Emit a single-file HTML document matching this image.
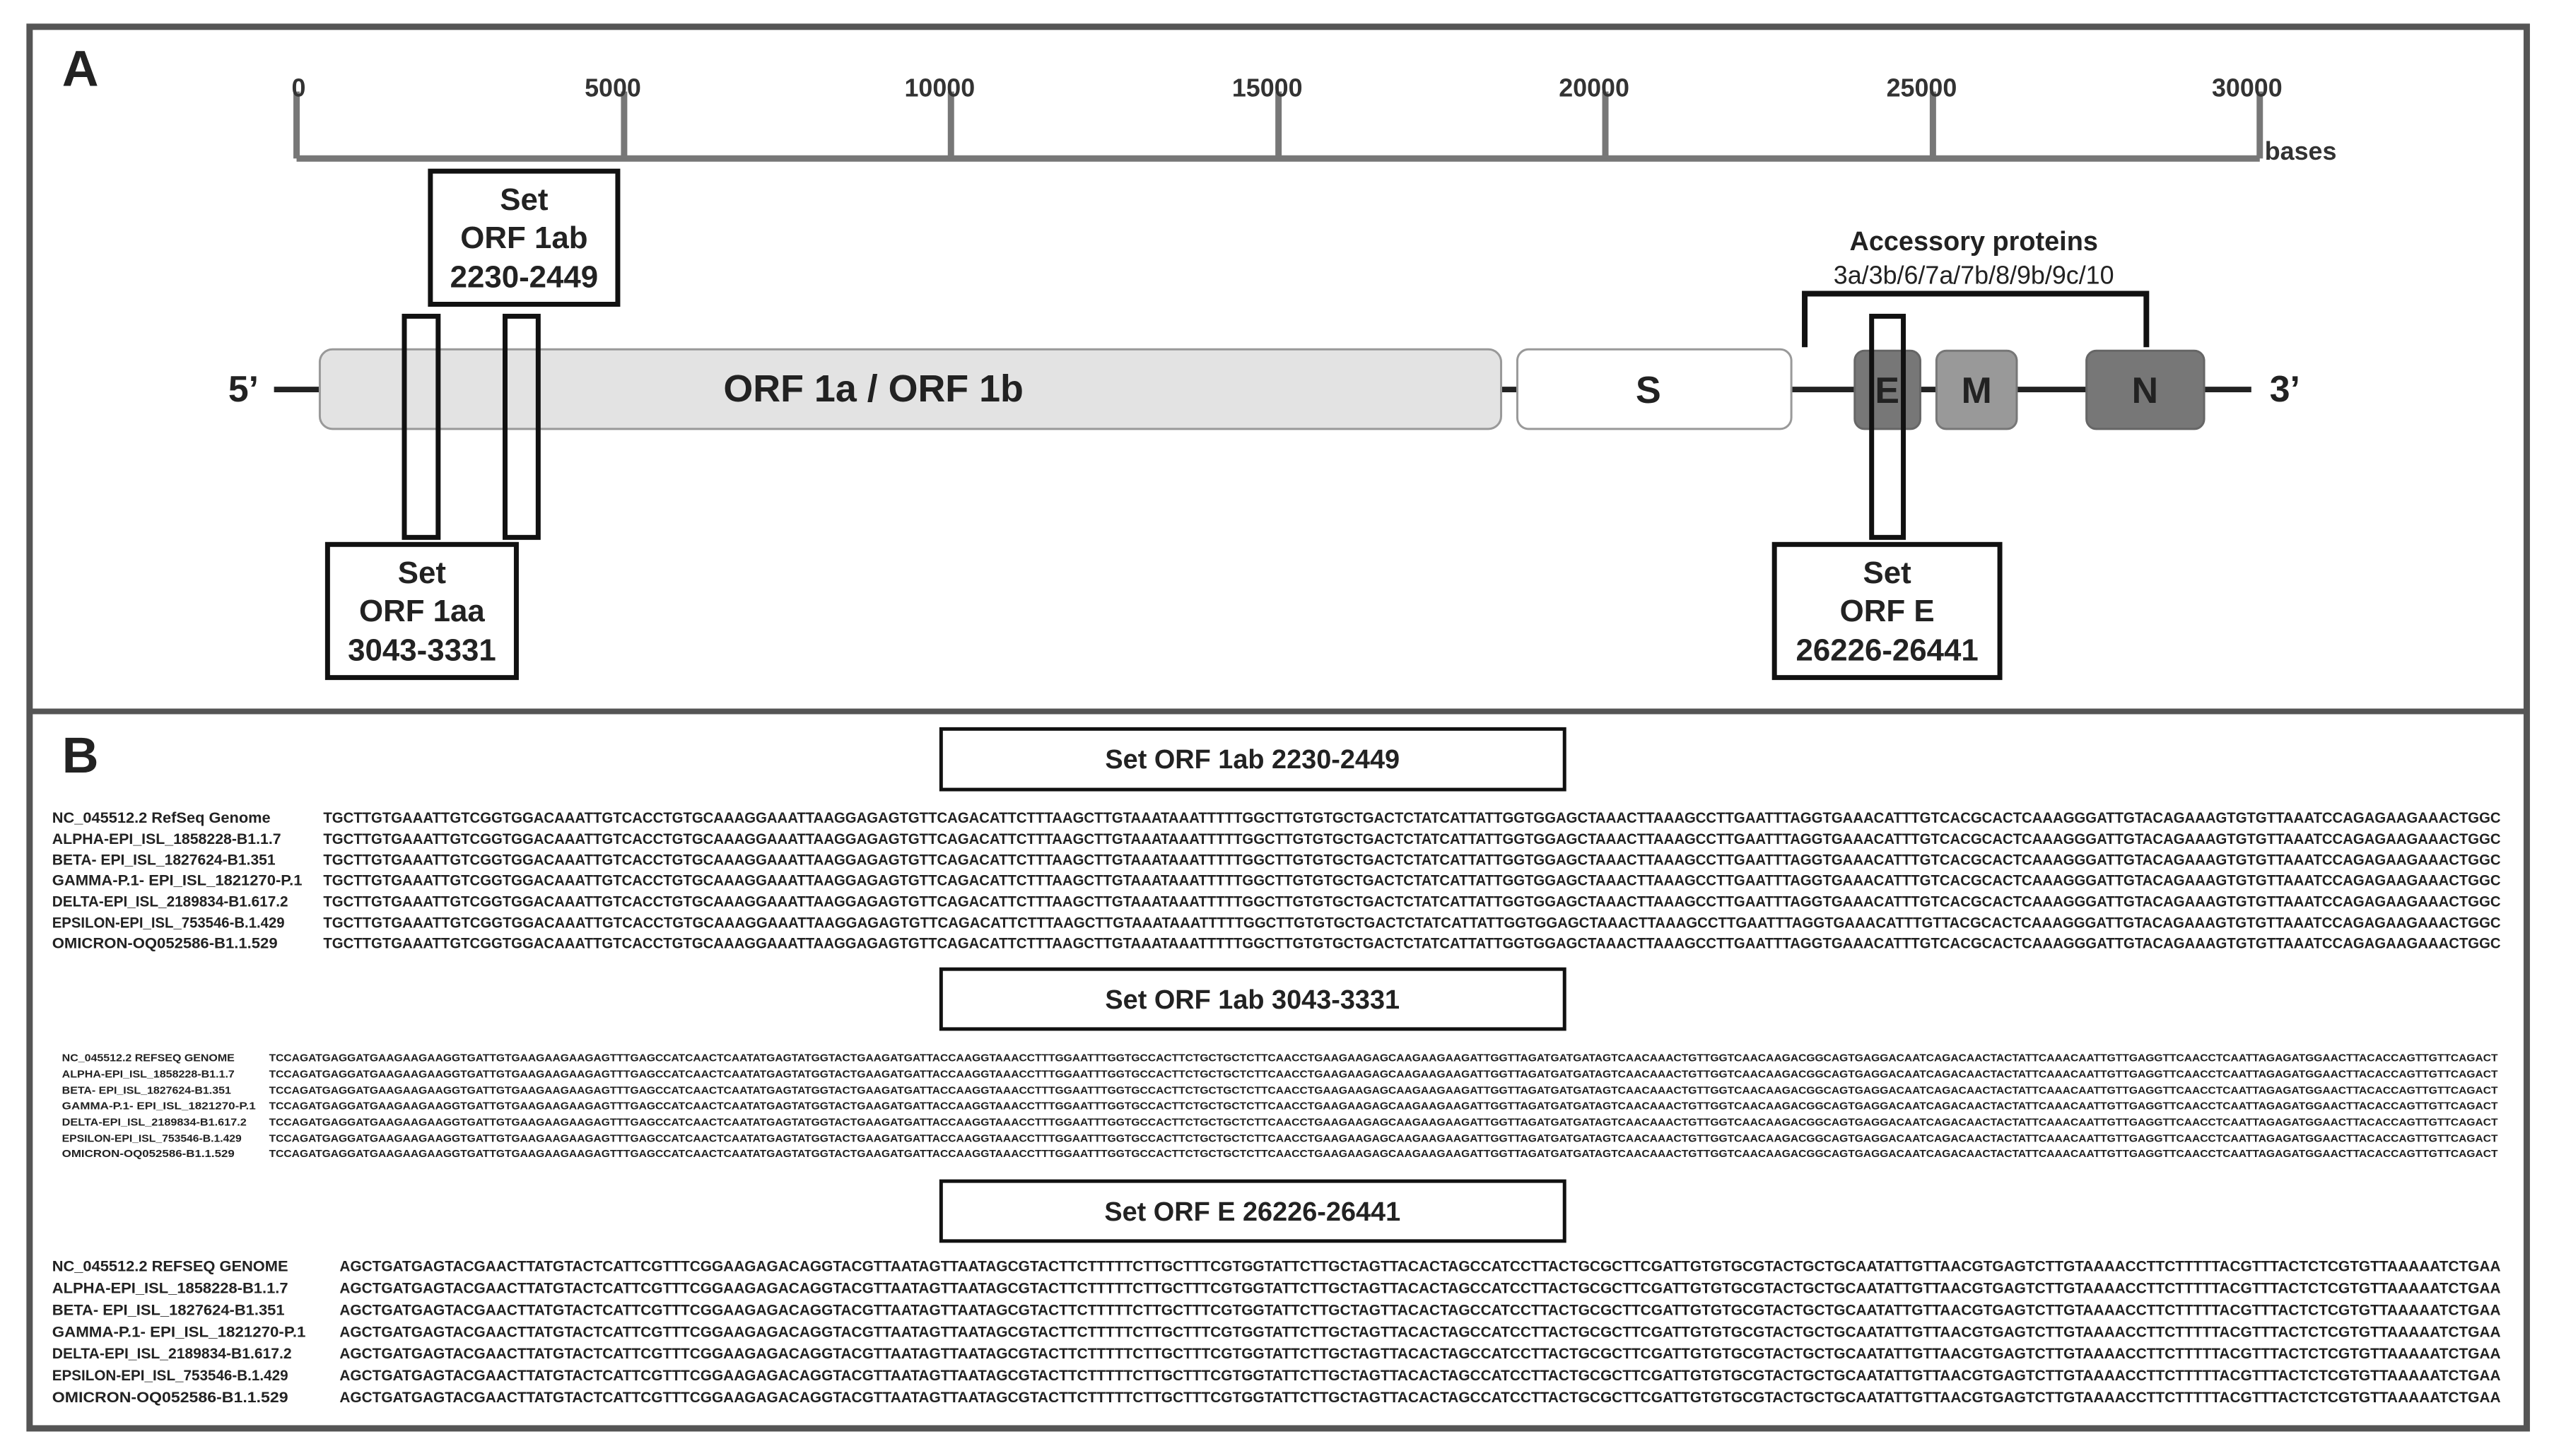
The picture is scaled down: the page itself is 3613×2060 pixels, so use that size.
<!DOCTYPE html>
<html><head><meta charset="utf-8"><style>html,body{margin:0;padding:0;background:#fff}svg{display:block}</style></head>
<body>
<svg xmlns="http://www.w3.org/2000/svg" width="3613" height="2060" viewBox="0 0 3613 2060" font-family="Liberation Sans, sans-serif">
<rect width="3613" height="2060" fill="#fff"/>
<g transform="scale(0.9965)">
<rect x="42" y="38" width="3545" height="1990" fill="none" stroke="#555" stroke-width="9"/>
<line x1="42" y1="1010" x2="3587" y2="1010" stroke="#555" stroke-width="8"/>
<text x="88" y="122" font-size="72" font-weight="bold" fill="#222">A</text>
<g stroke="#777" stroke-width="9" fill="none">
<line x1="421" y1="225" x2="3208" y2="225"/>
<line x1="421" y1="130" x2="421" y2="225"/><line x1="886" y1="130" x2="886" y2="225"/>
<line x1="1350" y1="130" x2="1350" y2="225"/><line x1="1815" y1="130" x2="1815" y2="225"/>
<line x1="2279" y1="130" x2="2279" y2="225"/><line x1="2744" y1="130" x2="2744" y2="225"/>
<line x1="3208" y1="130" x2="3208" y2="225"/>
</g>
<g font-size="36" font-weight="bold" fill="#333" text-anchor="middle">
<text x="424" y="137">0</text><text x="870" y="137">5000</text><text x="1334" y="137">10000</text>
<text x="1799" y="137">15000</text><text x="2263" y="137">20000</text><text x="2728" y="137">25000</text><text x="3190" y="137">30000</text>
</g>
<text x="3215" y="227" font-size="36" font-weight="bold" fill="#333">bases</text>
<line x1="389" y1="553" x2="3196" y2="553" stroke="#222" stroke-width="8"/>
<text x="324" y="570" font-size="52" font-weight="bold" fill="#222">5’</text>
<text x="3222" y="570" font-size="52" font-weight="bold" fill="#222">3’</text>
<rect x="454" y="496" width="1677" height="113" rx="18" fill="#e3e3e3" stroke="#999" stroke-width="3"/>
<text x="1240" y="570" font-size="54" font-weight="bold" fill="#222" text-anchor="middle">ORF 1a / ORF 1b</text>
<rect x="2154" y="496" width="389" height="113" rx="16" fill="#fff" stroke="#999" stroke-width="3"/>
<text x="2340" y="572" font-size="54" font-weight="bold" fill="#222" text-anchor="middle">S</text>
<rect x="2633" y="498" width="93" height="111" rx="14" fill="#777" stroke="#666" stroke-width="3"/>
<text x="2679" y="572" font-size="52" font-weight="bold" fill="#222" text-anchor="middle">E</text>
<rect x="2749" y="498" width="114" height="111" rx="14" fill="#999" stroke="#777" stroke-width="3"/>
<text x="2806" y="572" font-size="52" font-weight="bold" fill="#222" text-anchor="middle">M</text>
<rect x="2962" y="498" width="167" height="111" rx="14" fill="#777" stroke="#666" stroke-width="3"/>
<text x="3045" y="572" font-size="52" font-weight="bold" fill="#222" text-anchor="middle">N</text>
<path d="M2562 493 V417 H3047 V493" fill="none" stroke="#111" stroke-width="8"/>
<text x="2802" y="355" font-size="38" font-weight="bold" fill="#222" text-anchor="middle">Accessory proteins</text>
<text x="2802" y="403" font-size="36" fill="#222" text-anchor="middle">3a/3b/6/7a/7b/8/9b/9c/10</text>
<g fill="none" stroke="#111" stroke-width="7">
<rect x="574" y="449" width="48" height="314"/>
<rect x="717" y="449" width="47" height="314"/>
<rect x="2657" y="449" width="45" height="314"/>
<rect x="611" y="243" width="266" height="189"/>
<rect x="465" y="773" width="268" height="189"/>
<rect x="2519" y="773" width="320" height="189"/>
</g>
<g font-size="44" font-weight="bold" fill="#222" text-anchor="middle">
<text x="744" y="298">Set</text><text x="744" y="352">ORF 1ab</text><text x="744" y="408">2230-2449</text>
<text x="599" y="828">Set</text><text x="599" y="882">ORF 1aa</text><text x="599" y="938">3043-3331</text>
<text x="2679" y="828">Set</text><text x="2679" y="882">ORF E</text><text x="2679" y="938">26226-26441</text>
</g>
<text x="88" y="1097" font-size="72" font-weight="bold" fill="#222">B</text>
<g fill="none" stroke="#111" stroke-width="5">
<rect x="1336" y="1035" width="885" height="86"/>
<rect x="1336" y="1376" width="885" height="85"/>
<rect x="1336" y="1677" width="885" height="85"/>
</g>
<g font-size="38" font-weight="bold" fill="#222" text-anchor="middle">
<text x="1778" y="1091">Set ORF 1ab 2230-2449</text>
<text x="1778" y="1432">Set ORF 1ab 3043-3331</text>
<text x="1778" y="1733">Set ORF E  26226-26441</text>
</g>
<g font-size="21" font-weight="bold" fill="#222">
<text x="74" y="1168" textLength="310" lengthAdjust="spacingAndGlyphs">NC_045512.2 RefSeq Genome</text>
<text x="74" y="1198" textLength="325" lengthAdjust="spacingAndGlyphs">ALPHA-EPI_ISL_1858228-B1.1.7</text>
<text x="74" y="1228" textLength="317" lengthAdjust="spacingAndGlyphs">BETA- EPI_ISL_1827624-B1.351</text>
<text x="74" y="1257" textLength="355" lengthAdjust="spacingAndGlyphs">GAMMA-P.1- EPI_ISL_1821270-P.1</text>
<text x="74" y="1287" textLength="335" lengthAdjust="spacingAndGlyphs">DELTA-EPI_ISL_2189834-B1.617.2</text>
<text x="74" y="1317" textLength="330" lengthAdjust="spacingAndGlyphs">EPSILON-EPI_ISL_753546-B.1.429</text>
<text x="74" y="1346" textLength="320" lengthAdjust="spacingAndGlyphs">OMICRON-OQ052586-B1.1.529</text>
</g>
<g font-size="21" font-weight="bold" fill="#222">
<text x="459" y="1168" textLength="3091" lengthAdjust="spacingAndGlyphs">TGCTTGTGAAATTGTCGGTGGACAAATTGTCACCTGTGCAAAGGAAATTAAGGAGAGTGTTCAGACATTCTTTAAGCTTGTAAATAAATTTTTGGCTTGTGTGCTGACTCTATCATTATTGGTGGAGCTAAACTTAAAGCCTTGAATTTAGGTGAAACATTTGTCACGCACTCAAAGGGATTGTACAGAAAGTGTGTTAAATCCAGAGAAGAAACTGGC</text>
<text x="459" y="1198" textLength="3091" lengthAdjust="spacingAndGlyphs">TGCTTGTGAAATTGTCGGTGGACAAATTGTCACCTGTGCAAAGGAAATTAAGGAGAGTGTTCAGACATTCTTTAAGCTTGTAAATAAATTTTTGGCTTGTGTGCTGACTCTATCATTATTGGTGGAGCTAAACTTAAAGCCTTGAATTTAGGTGAAACATTTGTCACGCACTCAAAGGGATTGTACAGAAAGTGTGTTAAATCCAGAGAAGAAACTGGC</text>
<text x="459" y="1228" textLength="3091" lengthAdjust="spacingAndGlyphs">TGCTTGTGAAATTGTCGGTGGACAAATTGTCACCTGTGCAAAGGAAATTAAGGAGAGTGTTCAGACATTCTTTAAGCTTGTAAATAAATTTTTGGCTTGTGTGCTGACTCTATCATTATTGGTGGAGCTAAACTTAAAGCCTTGAATTTAGGTGAAACATTTGTCACGCACTCAAAGGGATTGTACAGAAAGTGTGTTAAATCCAGAGAAGAAACTGGC</text>
<text x="459" y="1257" textLength="3091" lengthAdjust="spacingAndGlyphs">TGCTTGTGAAATTGTCGGTGGACAAATTGTCACCTGTGCAAAGGAAATTAAGGAGAGTGTTCAGACATTCTTTAAGCTTGTAAATAAATTTTTGGCTTGTGTGCTGACTCTATCATTATTGGTGGAGCTAAACTTAAAGCCTTGAATTTAGGTGAAACATTTGTCACGCACTCAAAGGGATTGTACAGAAAGTGTGTTAAATCCAGAGAAGAAACTGGC</text>
<text x="459" y="1287" textLength="3091" lengthAdjust="spacingAndGlyphs">TGCTTGTGAAATTGTCGGTGGACAAATTGTCACCTGTGCAAAGGAAATTAAGGAGAGTGTTCAGACATTCTTTAAGCTTGTAAATAAATTTTTGGCTTGTGTGCTGACTCTATCATTATTGGTGGAGCTAAACTTAAAGCCTTGAATTTAGGTGAAACATTTGTCACGCACTCAAAGGGATTGTACAGAAAGTGTGTTAAATCCAGAGAAGAAACTGGC</text>
<text x="459" y="1317" textLength="3091" lengthAdjust="spacingAndGlyphs">TGCTTGTGAAATTGTCGGTGGACAAATTGTCACCTGTGCAAAGGAAATTAAGGAGAGTGTTCAGACATTCTTTAAGCTTGTAAATAAATTTTTGGCTTGTGTGCTGACTCTATCATTATTGGTGGAGCTAAACTTAAAGCCTTGAATTTAGGTGAAACATTTGTTACGCACTCAAAGGGATTGTACAGAAAGTGTGTTAAATCCAGAGAAGAAACTGGC</text>
<text x="459" y="1346" textLength="3091" lengthAdjust="spacingAndGlyphs">TGCTTGTGAAATTGTCGGTGGACAAATTGTCACCTGTGCAAAGGAAATTAAGGAGAGTGTTCAGACATTCTTTAAGCTTGTAAATAAATTTTTGGCTTGTGTGCTGACTCTATCATTATTGGTGGAGCTAAACTTAAAGCCTTGAATTTAGGTGAAACATTTGTCACGCACTCAAAGGGATTGTACAGAAAGTGTGTTAAATCCAGAGAAGAAACTGGC</text>
</g>
<g font-size="15" font-weight="bold" fill="#222">
<text x="88" y="1507" textLength="245" lengthAdjust="spacingAndGlyphs">NC_045512.2 REFSEQ GENOME</text>
<text x="88" y="1530" textLength="245" lengthAdjust="spacingAndGlyphs">ALPHA-EPI_ISL_1858228-B1.1.7</text>
<text x="88" y="1553" textLength="240" lengthAdjust="spacingAndGlyphs">BETA- EPI_ISL_1827624-B1.351</text>
<text x="88" y="1575" textLength="275" lengthAdjust="spacingAndGlyphs">GAMMA-P.1- EPI_ISL_1821270-P.1</text>
<text x="88" y="1598" textLength="262" lengthAdjust="spacingAndGlyphs">DELTA-EPI_ISL_2189834-B1.617.2</text>
<text x="88" y="1621" textLength="255" lengthAdjust="spacingAndGlyphs">EPSILON-EPI_ISL_753546-B.1.429</text>
<text x="88" y="1643" textLength="245" lengthAdjust="spacingAndGlyphs">OMICRON-OQ052586-B1.1.529</text>
</g>
<g font-size="15" font-weight="bold" fill="#222">
<text x="382" y="1507" textLength="3164" lengthAdjust="spacingAndGlyphs">TCCAGATGAGGATGAAGAAGAAGGTGATTGTGAAGAAGAAGAGTTTGAGCCATCAACTCAATATGAGTATGGTACTGAAGATGATTACCAAGGTAAACCTTTGGAATTTGGTGCCACTTCTGCTGCTCTTCAACCTGAAGAAGAGCAAGAAGAAGATTGGTTAGATGATGATAGTCAACAAACTGTTGGTCAACAAGACGGCAGTGAGGACAATCAGACAACTACTATTCAAACAATTGTTGAGGTTCAACCTCAATTAGAGATGGAACTTACACCAGTTGTTCAGACT</text>
<text x="382" y="1530" textLength="3164" lengthAdjust="spacingAndGlyphs">TCCAGATGAGGATGAAGAAGAAGGTGATTGTGAAGAAGAAGAGTTTGAGCCATCAACTCAATATGAGTATGGTACTGAAGATGATTACCAAGGTAAACCTTTGGAATTTGGTGCCACTTCTGCTGCTCTTCAACCTGAAGAAGAGCAAGAAGAAGATTGGTTAGATGATGATAGTCAACAAACTGTTGGTCAACAAGACGGCAGTGAGGACAATCAGACAACTACTATTCAAACAATTGTTGAGGTTCAACCTCAATTAGAGATGGAACTTACACCAGTTGTTCAGACT</text>
<text x="382" y="1553" textLength="3164" lengthAdjust="spacingAndGlyphs">TCCAGATGAGGATGAAGAAGAAGGTGATTGTGAAGAAGAAGAGTTTGAGCCATCAACTCAATATGAGTATGGTACTGAAGATGATTACCAAGGTAAACCTTTGGAATTTGGTGCCACTTCTGCTGCTCTTCAACCTGAAGAAGAGCAAGAAGAAGATTGGTTAGATGATGATAGTCAACAAACTGTTGGTCAACAAGACGGCAGTGAGGACAATCAGACAACTACTATTCAAACAATTGTTGAGGTTCAACCTCAATTAGAGATGGAACTTACACCAGTTGTTCAGACT</text>
<text x="382" y="1575" textLength="3164" lengthAdjust="spacingAndGlyphs">TCCAGATGAGGATGAAGAAGAAGGTGATTGTGAAGAAGAAGAGTTTGAGCCATCAACTCAATATGAGTATGGTACTGAAGATGATTACCAAGGTAAACCTTTGGAATTTGGTGCCACTTCTGCTGCTCTTCAACCTGAAGAAGAGCAAGAAGAAGATTGGTTAGATGATGATAGTCAACAAACTGTTGGTCAACAAGACGGCAGTGAGGACAATCAGACAACTACTATTCAAACAATTGTTGAGGTTCAACCTCAATTAGAGATGGAACTTACACCAGTTGTTCAGACT</text>
<text x="382" y="1598" textLength="3164" lengthAdjust="spacingAndGlyphs">TCCAGATGAGGATGAAGAAGAAGGTGATTGTGAAGAAGAAGAGTTTGAGCCATCAACTCAATATGAGTATGGTACTGAAGATGATTACCAAGGTAAACCTTTGGAATTTGGTGCCACTTCTGCTGCTCTTCAACCTGAAGAAGAGCAAGAAGAAGATTGGTTAGATGATGATAGTCAACAAACTGTTGGTCAACAAGACGGCAGTGAGGACAATCAGACAACTACTATTCAAACAATTGTTGAGGTTCAACCTCAATTAGAGATGGAACTTACACCAGTTGTTCAGACT</text>
<text x="382" y="1621" textLength="3164" lengthAdjust="spacingAndGlyphs">TCCAGATGAGGATGAAGAAGAAGGTGATTGTGAAGAAGAAGAGTTTGAGCCATCAACTCAATATGAGTATGGTACTGAAGATGATTACCAAGGTAAACCTTTGGAATTTGGTGCCACTTCTGCTGCTCTTCAACCTGAAGAAGAGCAAGAAGAAGATTGGTTAGATGATGATAGTCAACAAACTGTTGGTCAACAAGACGGCAGTGAGGACAATCAGACAACTACTATTCAAACAATTGTTGAGGTTCAACCTCAATTAGAGATGGAACTTACACCAGTTGTTCAGACT</text>
<text x="382" y="1643" textLength="3164" lengthAdjust="spacingAndGlyphs">TCCAGATGAGGATGAAGAAGAAGGTGATTGTGAAGAAGAAGAGTTTGAGCCATCAACTCAATATGAGTATGGTACTGAAGATGATTACCAAGGTAAACCTTTGGAATTTGGTGCCACTTCTGCTGCTCTTCAACCTGAAGAAGAGCAAGAAGAAGATTGGTTAGATGATGATAGTCAACAAACTGTTGGTCAACAAGACGGCAGTGAGGACAATCAGACAACTACTATTCAAACAATTGTTGAGGTTCAACCTCAATTAGAGATGGAACTTACACCAGTTGTTCAGACT</text>
</g>
<g font-size="21" font-weight="bold" fill="#222">
<text x="74" y="1805" textLength="335" lengthAdjust="spacingAndGlyphs">NC_045512.2 REFSEQ GENOME</text>
<text x="74" y="1836" textLength="335" lengthAdjust="spacingAndGlyphs">ALPHA-EPI_ISL_1858228-B1.1.7</text>
<text x="74" y="1867" textLength="330" lengthAdjust="spacingAndGlyphs">BETA- EPI_ISL_1827624-B1.351</text>
<text x="74" y="1898" textLength="360" lengthAdjust="spacingAndGlyphs">GAMMA-P.1- EPI_ISL_1821270-P.1</text>
<text x="74" y="1929" textLength="340" lengthAdjust="spacingAndGlyphs">DELTA-EPI_ISL_2189834-B1.617.2</text>
<text x="74" y="1960" textLength="335" lengthAdjust="spacingAndGlyphs">EPSILON-EPI_ISL_753546-B.1.429</text>
<text x="74" y="1991" textLength="335" lengthAdjust="spacingAndGlyphs">OMICRON-OQ052586-B1.1.529</text>
</g>
<g font-size="21" font-weight="bold" fill="#222">
<text x="482" y="1805" textLength="3068" lengthAdjust="spacingAndGlyphs">AGCTGATGAGTACGAACTTATGTACTCATTCGTTTCGGAAGAGACAGGTACGTTAATAGTTAATAGCGTACTTCTTTTTCTTGCTTTCGTGGTATTCTTGCTAGTTACACTAGCCATCCTTACTGCGCTTCGATTGTGTGCGTACTGCTGCAATATTGTTAACGTGAGTCTTGTAAAACCTTCTTTTTACGTTTACTCTCGTGTTAAAAATCTGAA</text>
<text x="482" y="1836" textLength="3068" lengthAdjust="spacingAndGlyphs">AGCTGATGAGTACGAACTTATGTACTCATTCGTTTCGGAAGAGACAGGTACGTTAATAGTTAATAGCGTACTTCTTTTTCTTGCTTTCGTGGTATTCTTGCTAGTTACACTAGCCATCCTTACTGCGCTTCGATTGTGTGCGTACTGCTGCAATATTGTTAACGTGAGTCTTGTAAAACCTTCTTTTTACGTTTACTCTCGTGTTAAAAATCTGAA</text>
<text x="482" y="1867" textLength="3068" lengthAdjust="spacingAndGlyphs">AGCTGATGAGTACGAACTTATGTACTCATTCGTTTCGGAAGAGACAGGTACGTTAATAGTTAATAGCGTACTTCTTTTTCTTGCTTTCGTGGTATTCTTGCTAGTTACACTAGCCATCCTTACTGCGCTTCGATTGTGTGCGTACTGCTGCAATATTGTTAACGTGAGTCTTGTAAAACCTTCTTTTTACGTTTACTCTCGTGTTAAAAATCTGAA</text>
<text x="482" y="1898" textLength="3068" lengthAdjust="spacingAndGlyphs">AGCTGATGAGTACGAACTTATGTACTCATTCGTTTCGGAAGAGACAGGTACGTTAATAGTTAATAGCGTACTTCTTTTTCTTGCTTTCGTGGTATTCTTGCTAGTTACACTAGCCATCCTTACTGCGCTTCGATTGTGTGCGTACTGCTGCAATATTGTTAACGTGAGTCTTGTAAAACCTTCTTTTTACGTTTACTCTCGTGTTAAAAATCTGAA</text>
<text x="482" y="1929" textLength="3068" lengthAdjust="spacingAndGlyphs">AGCTGATGAGTACGAACTTATGTACTCATTCGTTTCGGAAGAGACAGGTACGTTAATAGTTAATAGCGTACTTCTTTTTCTTGCTTTCGTGGTATTCTTGCTAGTTACACTAGCCATCCTTACTGCGCTTCGATTGTGTGCGTACTGCTGCAATATTGTTAACGTGAGTCTTGTAAAACCTTCTTTTTACGTTTACTCTCGTGTTAAAAATCTGAA</text>
<text x="482" y="1960" textLength="3068" lengthAdjust="spacingAndGlyphs">AGCTGATGAGTACGAACTTATGTACTCATTCGTTTCGGAAGAGACAGGTACGTTAATAGTTAATAGCGTACTTCTTTTTCTTGCTTTCGTGGTATTCTTGCTAGTTACACTAGCCATCCTTACTGCGCTTCGATTGTGTGCGTACTGCTGCAATATTGTTAACGTGAGTCTTGTAAAACCTTCTTTTTACGTTTACTCTCGTGTTAAAAATCTGAA</text>
<text x="482" y="1991" textLength="3068" lengthAdjust="spacingAndGlyphs">AGCTGATGAGTACGAACTTATGTACTCATTCGTTTCGGAAGAGACAGGTACGTTAATAGTTAATAGCGTACTTCTTTTTCTTGCTTTCGTGGTATTCTTGCTAGTTACACTAGCCATCCTTACTGCGCTTCGATTGTGTGCGTACTGCTGCAATATTGTTAACGTGAGTCTTGTAAAACCTTCTTTTTACGTTTACTCTCGTGTTAAAAATCTGAA</text>
</g>
</g>
</svg>
</body></html>
